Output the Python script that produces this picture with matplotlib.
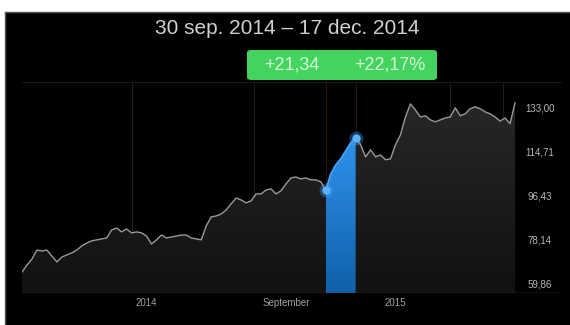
import numpy as np
import matplotlib.pyplot as plt
from matplotlib.colors import LinearSegmentedColormap
from matplotlib.patches import FancyBboxPatch
import matplotlib.transforms as mtransforms

# --- data ---
price = [
    65.2, 68.1, 70.6, 74.3, 73.9, 74.3, 71.8, 69.4, 71.4, 72.3,
    73.1, 74.3, 76.0, 77.2, 78.1, 78.5, 78.9, 79.3, 82.6, 83.4,
    81.8, 83.0, 81.4, 81.8, 81.4, 80.1, 76.8, 78.5, 80.5, 79.3,
    79.7, 80.1, 80.5, 80.5, 79.3, 78.9, 78.5, 84.3, 88.0, 88.4,
    89.2, 90.9, 93.4, 95.8, 95.0, 93.8, 94.6, 97.5, 97.5, 99.1,
    99.6, 97.5, 98.8, 101.6, 104.1, 104.5, 103.7, 104.1, 103.3, 103.3,
    102.5, 99.1, 105.8, 109.5, 112.0, 115.3, 118.6, 120.6, 117.8, 112.8,
    115.7, 112.8, 113.6, 111.6, 112.0, 117.8, 121.9, 129.3, 134.7, 132.2,
    129.3, 129.8, 128.1, 127.3, 128.1, 128.9, 129.3, 133.1, 129.8, 130.6,
    132.7, 133.5, 132.7, 131.4, 130.6, 129.3, 127.6, 128.9, 126.5, 135.1,
]
sel_start, sel_end = 61, 67
y_ticks = [59.86, 78.14, 96.43, 114.71, 133.00]
y_tick_labels = ["59,86", "78,14", "96,43", "114,71", "133,00"]
x_labels = ["2014", "September", "2015"]
x_label_pos = [25, 53, 75]
grid_pos = [22, 46.5, 86, 96.6]
title = "30 sep. 2014 \u2013 17 dec. 2014"
change_abs = "+21,34"
change_pct = "+22,17%"

idx = np.arange(len(price))
price = np.array(price)

W, H = 570, 325
fig = plt.figure(figsize=(W / 100, H / 100), dpi=100)
fig.patch.set_facecolor("white")

# black screen area
bg = fig.add_axes([5 / W, 0, 1 - 5 / W, 1 - 12 / H])
bg.set_facecolor("black")
bg.set_xticks([])
bg.set_yticks([])
for side, s in bg.spines.items():
    if side in ("left", "top"):
        s.set_color("#555555")
        s.set_linewidth(1)
    else:
        s.set_visible(False)

ymin, ymax = 56.55, 143.75
ax = fig.add_axes([22 / W, 1 - 293 / H, 540 / W, 211 / H])
ax.set_facecolor("none")
ax.set_xlim(0, 99 + 47 * 99 / 493)
ax.set_ylim(ymin, ymax)
for s in ax.spines.values():
    s.set_visible(False)
ax.set_xticks([])
ax.set_yticks([])

# gradient fill under the whole line
gray = LinearSegmentedColormap.from_list("g", ["#111111", "#272727"])
grad = np.linspace(0, 1, 256).reshape(-1, 1)
poly = ax.fill_between(idx, price, ymin, color="none")
im = ax.imshow(grad, extent=[0, 99, ymin, price.max()], origin="lower",
               aspect="auto", cmap=gray, zorder=1)
im.set_clip_path(poly.get_paths()[0], transform=ax.transData)

# selected range in blue
si = idx[sel_start:sel_end + 1]
sp = price[sel_start:sel_end + 1]
blue = LinearSegmentedColormap.from_list("b", ["#1060aa", "#2f92ec"])
bpoly = ax.fill_between(si, sp, ymin, color="none")
bim = ax.imshow(grad, extent=[sel_start, sel_end, ymin, sp.max()], origin="lower",
                aspect="auto", cmap=blue, zorder=2)
bim.set_clip_path(bpoly.get_paths()[0], transform=ax.transData)

# grid lines
for g in grid_pos:
    ax.axvline(g, color="#1e1e1e", lw=0.8, zorder=0.5)
for g in (sel_start, sel_end):
    ax.axvline(g, color="#2a1410", lw=0.8, zorder=0.5)
ax.axhline(ymin, color="#3a3a3a", lw=1, zorder=3)
ax.axhline(ymax, color="#1a1a1a", lw=0.8, zorder=0.5)

# price line
ax.plot(idx[:sel_start + 1], price[:sel_start + 1], color="#999999", lw=1.0, zorder=4)
ax.plot(idx[sel_end:], price[sel_end:], color="#999999", lw=1.0, zorder=4)
ax.plot(si, sp, color="#4aa3ff", lw=1.2, zorder=5)
for i in (sel_start, sel_end):
    ax.plot(i, price[i], "o", ms=10, color="#3d9cff", alpha=0.35, zorder=6, mec="none")
    ax.plot(i, price[i], "o", ms=6, color="#5cb2ff", zorder=7, mec="none")

# y labels on the right
tr = mtransforms.blended_transform_factory(ax.transAxes, ax.transData)
for v, lab in zip(y_ticks, y_tick_labels):
    ax.text((540 - 22) / 540, v, lab, transform=tr, ha="center", va="center",
            fontsize=7, color="#b8b8b8", family="Liberation Sans")

# x labels under the axis
trx = mtransforms.blended_transform_factory(ax.transData, ax.transAxes)
for p, lab in zip(x_label_pos, x_labels):
    ax.text(p, -10 / 211, lab, transform=trx, ha="center", va="center",
            fontsize=7, color="#a0a0a0", family="Liberation Sans")

# title and change badge
fig.text(287 / W, 1 - 28 / H, title, ha="center", va="center",
         fontsize=15, color="#d0d0d0", family="Liberation Sans")
badge = FancyBboxPatch((247 / W, 1 - 80 / H), 190 / W, 30 / H,
                       boxstyle="round,pad=0,rounding_size=0.008",
                       transform=fig.transFigure, facecolor="#44d35e",
                       edgecolor="none")
fig.patches.append(badge)
fig.text(292 / W, 1 - 65 / H, change_abs, ha="center", va="center",
         fontsize=13, color="#d6f7d8", family="Liberation Sans")
fig.text(390 / W, 1 - 65 / H, change_pct, ha="center", va="center",
         fontsize=13, color="#d6f7d8", family="Liberation Sans")

fig.savefig("out.png", dpi=100, facecolor=fig.get_facecolor())
